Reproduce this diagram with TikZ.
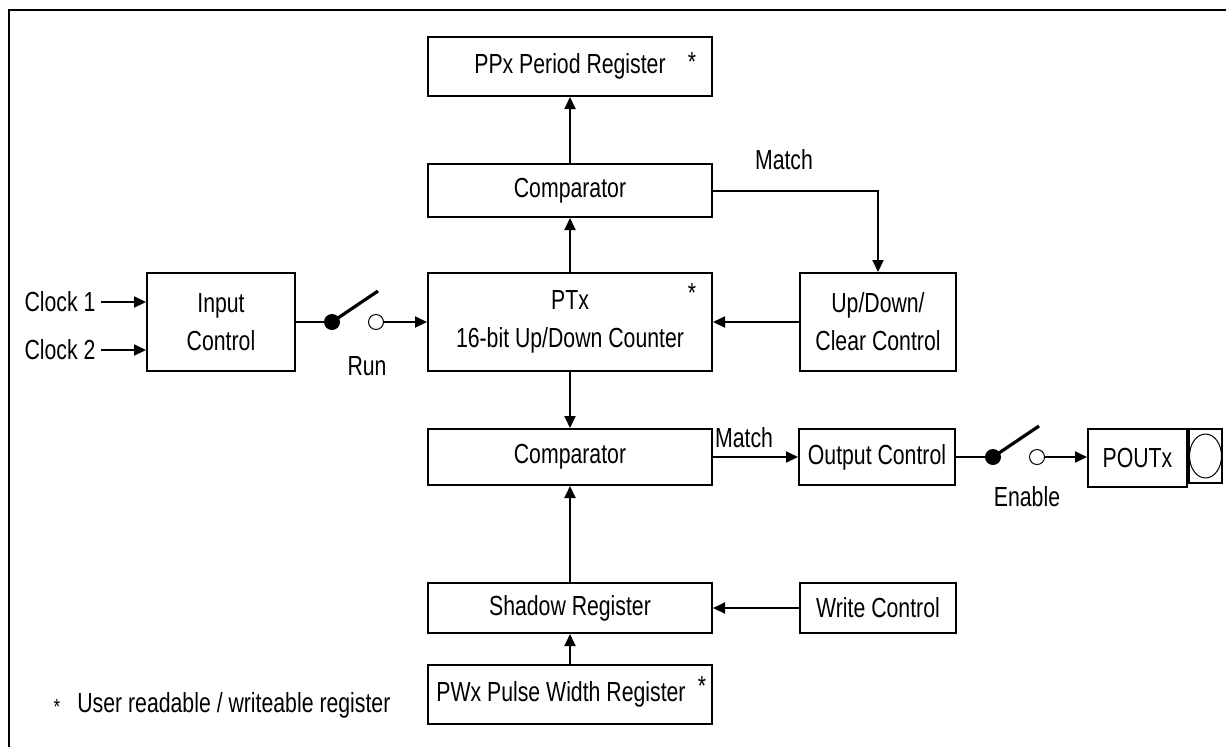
\documentclass[tikz,border=0pt]{standalone}
\usepackage{fontspec}
\setmainfont[FakeStretch=0.77]{Liberation Sans}
\usepackage{tikz}
\usetikzlibrary{arrows.meta}

\tikzset{
  blk/.style={draw, line width=1pt, inner sep=0pt, align=center, minimum width=142pt},
  sig/.style={line width=1pt, -{Triangle[length=6pt,width=5.5pt]}},
  wire/.style={line width=1pt},
  lever/.style={line width=1.6pt},
  pivot/.style={circle, fill, inner sep=0pt, minimum size=8pt},
  pin/.style={circle, draw, line width=0.5pt, inner sep=0pt, minimum size=7.5pt},
  lbl/.style={inner sep=0pt},
}

\begin{document}
\begin{tikzpicture}[x=0.5pt,y=-0.5pt,font=\fontsize{13.8}{19}\selectfont]
  \useasboundingbox (0,0) rectangle (1226,746);
  \clip (0,0) rectangle (1226,746);
  \draw[line width=1.1pt] (9,10) rectangle (1260,780);   % outer frame, cut at right and bottom

  % centre column
  \node[blk, minimum height=29.5pt] (ppx) at (570,66.5) {PPx Period Register};
  \node[blk, minimum height=26.5pt] (cmpA) at (570,190.5) {Comparator};
  \node[blk, minimum height=49pt] (ptx) at (570,322) {PTx\\16-bit Up/Down Counter};
  \node[blk, minimum height=28pt] (cmpB) at (570,457) {Comparator};
  \node[blk, minimum height=25pt] (shd) at (570,608) {Shadow Register};
  \node[blk, minimum height=29.5pt] (pwx) at (570,694.5) {PWx Pulse Width Register\hspace{9pt}};
  \node[lbl] (ppxstar) at (692,62) {*};   % user register marks
  \node[lbl] (ptxstar) at (692,293) {*};
  \node[lbl] (pwxstar) at (702,686) {*};

  % side blocks
  \node[blk, minimum width=74pt, minimum height=49pt] (inp) at (221,322) {Input\\Control};
  \node[blk, minimum width=78pt, minimum height=49pt] (udc) at (878,322) {Up/Down/\\Clear Control};
  \node[blk, minimum width=78pt, minimum height=28pt] (outc) at (877,457) {Output Control};
  \node[blk, minimum width=78pt, minimum height=25pt] (wrc) at (878,608) {Write Control};
  \node[blk, minimum width=49.5pt, minimum height=29pt] (pout) at (1137.5,458) {POUTx};
  \node[blk, minimum width=16.5pt, minimum height=27pt, anchor=north west] (pad) at (pout.north east) {};
  \draw[line width=0.5pt] (pad.center) ellipse (16 and 22);   % pad outline

  % clocks
  \node[lbl] (clk1) at (60,302) {Clock 1};
  \node[lbl] (clk2) at (60,350) {Clock 2};
  \draw[sig] (clk1.east) ++(5,0) -- (clk1.east -| inp.west);
  \draw[sig] (clk2.east) ++(5,0) -- (clk2.east -| inp.west);

  % run switch
  \node[pivot] (rundot) at (332,322) {};
  \node[pin] (runpin) at (376,322) {};
  \coordinate (runtip) at (378,291);
  \draw[wire] (inp.east) -- (rundot);
  \draw[lever] (rundot.center) -- (runtip);
  \draw[sig] (runpin.east) -- (ptx.west);
  \node[lbl] (run) at (367,366) {Run};

  % enable switch
  \node[pivot] (endot) at (993,457) {};
  \node[pin] (enpin) at (1037,457) {};
  \coordinate (entip) at (1039,426);
  \draw[wire] (outc.east) -- (endot);
  \draw[lever] (endot.center) -- (entip);
  \draw[sig] (enpin.east) -- (enpin.east -| pout.west);
  \node[lbl] (enable) at (1027,497) {Enable};

  % data paths
  \draw[sig] (cmpA.north) -- (ppx.south);
  \draw[sig] (ptx.north) -- (cmpA.south);
  \draw[sig] (ptx.south) -- (cmpB.north);
  \draw[sig] (shd.north) -- (cmpB.south);
  \draw[sig] (pwx.north) -- (shd.south);
  \draw[sig] (cmpA.east) -| (udc.north);
  \draw[sig] (udc.west) -- (ptx.east);
  \draw[sig] (cmpB.east) -- (outc.west);
  \draw[sig] (wrc.west) -- (shd.east);
  \node[lbl] (matchA) at (784,160) {Match};
  \node[lbl] (matchB) at (744,438) {Match};

  % footnote
  \node[lbl, font=\fontsize{11}{13}\selectfont] (fnstar) at (57,707) {*};
  \node[lbl, anchor=west] (fntext) at (77,705) {User readable / writeable register};
\end{tikzpicture}
\end{document}
